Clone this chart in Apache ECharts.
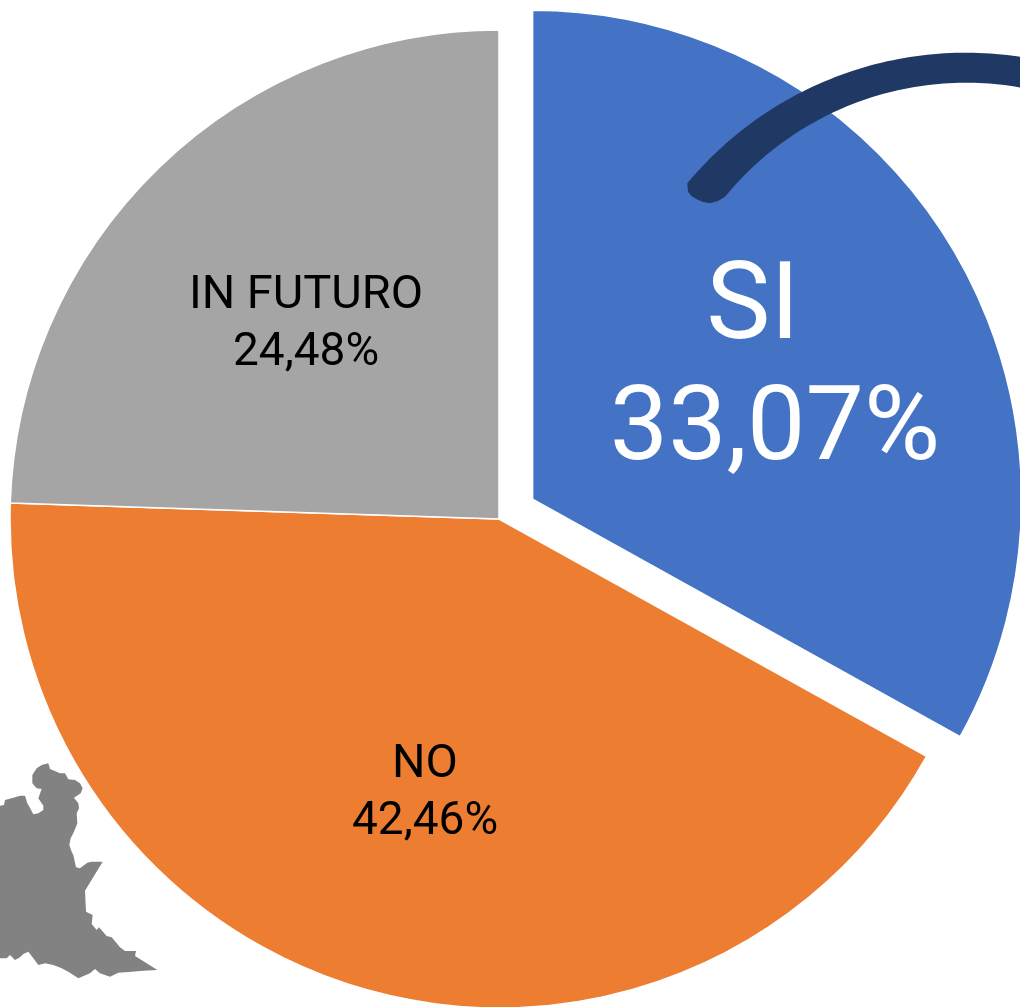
<!DOCTYPE html>
<html>
<head>
<meta charset="utf-8">
<style>
  html, body { margin: 0; padding: 0; background: #fff; }
  #chart { width: 1020px; height: 1007px; }
</style>
<script src="https://cdn.jsdelivr.net/npm/echarts@6/dist/echarts.min.js"></script>
</head>
<body>
<div id="chart"></div>
<script>
const categories = ['SI', 'NO', 'IN FUTURO']
const values = [33.07, 42.46, 24.48]

const colors = ['#4472C4', '#ED7D31', '#A5A5A5']
const labelColors = ['#fff', '#000', '#000']
const labelCenters = { 1: [425, 794], 2: [306, 325] }
const fontFamily = 'Roboto, "DejaVu Sans", sans-serif'

const crop = (pts, x, y) => pts.map(p => [p[0] / 3 + x, p[1] / 3 + y])

const mapOutline = crop([
  [0, 152], [12, 150], [15, 135], [40, 128], [60, 122], [75, 122], [82, 145], [88, 155], [100, 178],
  [115, 175], [130, 165], [130, 152], [115, 130], [125, 102], [110, 100], [97, 85], [97, 60], [110, 40],
  [125, 30], [145, 25], [150, 42], [170, 50], [180, 55], [195, 55], [205, 73], [225, 75], [240, 85],
  [248, 100], [242, 115], [222, 128], [235, 145], [237, 160], [230, 175], [232, 205], [222, 230],
  [212, 250], [208, 270], [215, 290], [220, 300]
], 0, 755).concat(crop([
  [222, 25], [228, 52], [240, 55], [262, 38], [275, 35], [308, 35], [255, 122], [258, 185], [278, 195],
  [275, 222], [290, 240], [297, 232], [320, 258], [335, 262], [360, 292], [375, 303], [408, 303],
  [405, 318], [440, 340], [472, 360], [430, 362], [395, 365], [355, 368], [330, 380], [300, 370],
  [285, 357], [270, 370], [235, 385], [205, 365], [185, 355], [160, 345], [135, 340], [115, 345],
  [100, 325], [85, 305], [70, 312], [60, 322], [45, 330], [30, 315], [20, 325], [0, 325]
], 0, 850))

// the dark swoosh tapers, so its two edges are arcs of different circles
function arcEdge(cx, cy, r, fromX, toX, steps) {
  const pts = []
  for (let i = 0; i <= steps; i++) {
    const x = fromX + (toX - fromX) * i / steps
    pts.push([x, cy - Math.sqrt(r * r - (x - cx) * (x - cx))])
  }
  return pts
}
const swooshCap = [[688, 191.7], [691.5, 196], [696.7, 199.3], [703, 202], [710, 203.3], [718, 201]]
const swooshOutline = arcEdge(966, 415.4, 362.7, 687.3, 1030, 60)
  .concat(arcEdge(966, 394.4, 311.7, 1030, 725, 60))
  .concat(swooshCap.slice().reverse())

const chart = echarts.init(document.getElementById('chart'))

chart.setOption({
  animation: false,
  series: [{
    type: 'pie',
    center: [499, 519],
    radius: [0, 489],
    startAngle: 90,
    clockwise: true,
    silent: true,
    avoidLabelOverlap: false,
    selectedMode: 'single',
    selectedOffset: 39,
    itemStyle: { borderColor: '#fff', borderWidth: 1.5 },
    label: {
      position: 'inside',
      fontFamily: fontFamily,
      formatter(p) {
        const pct = p.value.toFixed(2).replace('.', ',') + '%'
        return p.dataIndex === 0 ? `{bigName|${p.name}}\n{bigPct|${pct}}` : `{name|${p.name}}\n{pct|${pct}}`
      },
      rich: {
        name: { fontFamily: fontFamily, fontSize: 47, lineHeight: 57 },
        pct: { fontFamily: fontFamily, fontSize: 46, lineHeight: 57 },
        // the selected slice keeps its default label spot, so padding moves this one
        bigName: { fontFamily: fontFamily, fontSize: 108, lineHeight: 125, color: '#fff', padding: [0, 0, 0, 14] },
        bigPct: { fontFamily: fontFamily, fontSize: 104, lineHeight: 125, color: '#fff', padding: [0, 0, 6, 58] }
      }
    },
    labelLine: { show: false },
    labelLayout(params) {
      const c = labelCenters[params.dataIndex]
      return c ? { x: c[0], y: c[1], align: 'center', verticalAlign: 'middle' } : {}
    },
    data: categories.map((name, i) => ({
      name,
      value: values[i],
      selected: i === 0,
      itemStyle: { color: colors[i] },
      select: { itemStyle: { color: colors[i], borderColor: '#fff', borderWidth: 1.5 }, label: { color: labelColors[i] } },
      label: { color: labelColors[i] }
    }))
  }],
  graphic: [
    {
      type: 'polygon',
      z: 10,
      silent: true,
      shape: { points: swooshOutline },
      style: { fill: '#1F3864' }
    },
    {
      type: 'polygon',
      z: 10,
      silent: true,
      shape: { points: mapOutline },
      style: { fill: '#828282' }
    }
  ]
})
</script>
</body>
</html>
